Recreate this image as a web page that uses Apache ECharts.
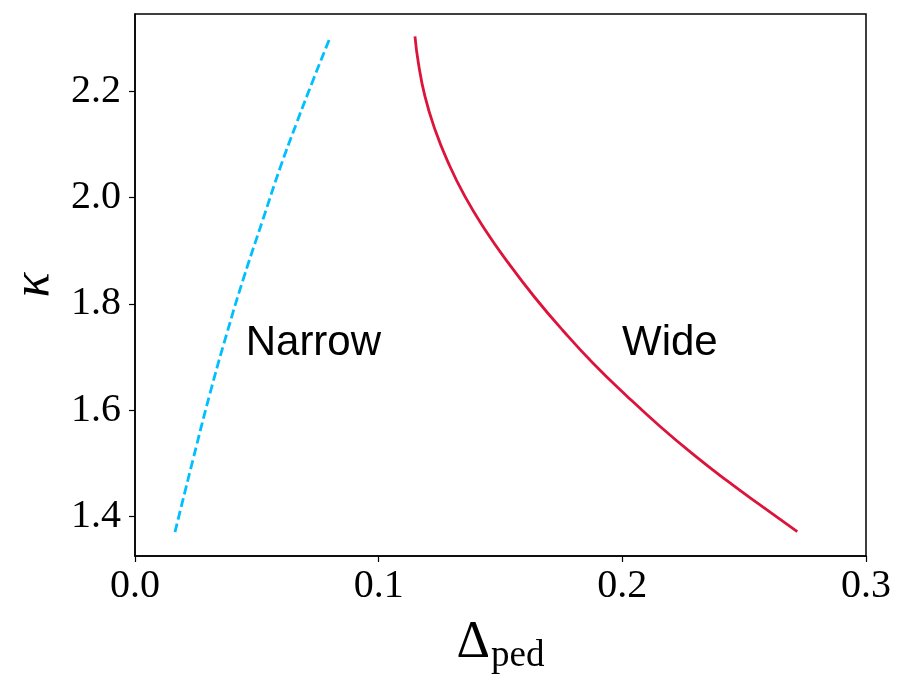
<!DOCTYPE html>
<html>
<head>
<meta charset="utf-8">
<script src="https://cdn.jsdelivr.net/npm/echarts@6/dist/echarts.min.js"></script>
<style>
html,body{margin:0;padding:0;background:#fff}
#chart{width:906px;height:683px}
</style>
</head>
<body>
<div id="chart"></div>
<script>
// narrow branch (dashed)
var narrowX = [0.0164, 0.0239, 0.0308, 0.0376, 0.0444, 0.0526, 0.0595, 0.0664, 0.0732, 0.0800];
var narrowY = [1.371, 1.509, 1.632, 1.743, 1.846, 1.960, 2.055, 2.141, 2.222, 2.300];

// wide branch (solid)
var wideX = [0.1149, 0.1163, 0.1190, 0.1231, 0.1286, 0.1354, 0.1436, 0.1532, 0.1641, 0.1756,
             0.1881, 0.2018, 0.2154, 0.2291, 0.2428, 0.2565, 0.2718];
var wideY = [2.303, 2.253, 2.190, 2.128, 2.065, 2.002, 1.940, 1.877, 1.812, 1.750,
             1.688, 1.627, 1.570, 1.517, 1.468, 1.422, 1.372];

var xTicks = [0.0, 0.1, 0.2, 0.3];
var yTicks = [1.4, 1.6, 1.8, 2.0, 2.2];

var noteNames = ['Narrow', 'Wide'];
var noteX = [0.0732, 0.2195];
var noteY = [1.725, 1.725];

function pairs(xs, ys) {
    return xs.map(function (x, i) { return [x, ys[i]]; });
}

var serif = "'Liberation Serif', 'DejaVu Serif', serif";
var chart = echarts.init(document.getElementById('chart'));

chart.setOption({
    animation: false,
    backgroundColor: '#fff',
    grid: {
        left: 135, right: 40, top: 14, bottom: 127,
        show: true, borderColor: '#000', borderWidth: 1.5
    },
    xAxis: {
        type: 'value',
        min: 0, max: 0.3,
        axisLine: {show: true, onZero: false, lineStyle: {color: '#000', width: 1.5}},
        axisTick: {show: true, inside: false, length: 6, customValues: xTicks,
                   lineStyle: {color: '#000', width: 1.2}},
        splitLine: {show: false},
        axisLabel: {
            color: '#000', fontFamily: serif, fontSize: 40, margin: 10,
            customValues: xTicks,
            formatter: function (v) { return v.toFixed(1); }
        },
        name: '{d|Δ}{s|ped}',
        nameLocation: 'middle',
        nameGap: 54,
        nameTextStyle: {
            rich: {
                d: {fontFamily: serif, fontSize: 52, lineHeight: 62, color: '#000'},
                s: {fontFamily: serif, fontSize: 37, lineHeight: 37, padding: [27, 0, 0, 1], color: '#000'}
            }
        }
    },
    yAxis: {
        type: 'value',
        min: 1.326, max: 2.345,
        axisLine: {show: true, onZero: false, lineStyle: {color: '#000', width: 1.5}},
        axisTick: {show: true, inside: false, length: 6, customValues: yTicks,
                   lineStyle: {color: '#000', width: 1.2}},
        splitLine: {show: false},
        axisLabel: {
            color: '#000', fontFamily: serif, fontSize: 40, margin: 14,
            customValues: yTicks,
            formatter: function (v) { return v.toFixed(1); }
        },
        name: 'κ',
        nameLocation: 'middle',
        nameRotate: 90,
        nameGap: 70,
        nameTextStyle: {fontFamily: serif, fontStyle: 'italic', fontSize: 52, color: '#000'}
    },
    series: [
        {
            name: 'Narrow',
            type: 'line',
            data: pairs(narrowX, narrowY),
            smooth: 0.5,
            showSymbol: false,
            lineStyle: {color: '#00BFFF', width: 2.8, type: [9, 4]}
        },
        {
            name: 'Wide',
            type: 'line',
            data: pairs(wideX, wideY),
            smooth: 0.5,
            showSymbol: false,
            lineStyle: {color: '#DC143C', width: 2.8}
        },
        {
            type: 'scatter',
            silent: true,
            symbolSize: 0,
            itemStyle: {opacity: 1},
            data: noteNames.map(function (n, i) { return {name: n, value: [noteX[i], noteY[i]]}; }),
            label: {
                show: true,
                position: [0, 0],
                align: 'center',
                verticalAlign: 'middle',
                formatter: function (p) { return p.name; },
                fontFamily: "'Liberation Sans', Arial, sans-serif",
                fontSize: 42,
                color: '#000',
                opacity: 1
            }
        }
    ]
});
</script>
</body>
</html>
